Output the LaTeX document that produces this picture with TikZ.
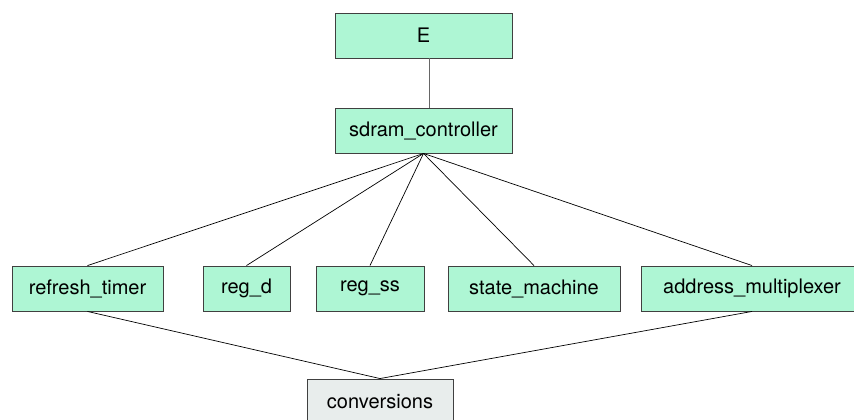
\documentclass[tikz,border=0pt]{standalone}
\usepackage{fontspec}
\setmainfont{TeX Gyre Heros}
\definecolor{modfill}{HTML}{AEF6D4}
\definecolor{pkgfill}{HTML}{E8EDEC}
\definecolor{boxline}{HTML}{404040}
\begin{document}
\begin{tikzpicture}[x=1pt,y=-1pt,
  unit/.style={draw=boxline,line width=0.9pt,fill=modfill,minimum height=45pt,
    inner sep=0pt,font=\fontsize{20}{22}\selectfont},
  pkg/.style={unit,fill=pkgfill},
  link/.style={draw=black,line width=0.7pt}]
\useasboundingbox (0,0) rectangle (854,420);
\fill[white] (0,0) rectangle (854,420);
% top entity and controller
\node[unit,minimum width=177pt] (e) at (423.5,35.5) {E};
\node[unit,minimum width=177pt] (ctrl) at (423.5,130.5) {sdram\_controller};
% sub-units
\node[unit,minimum width=151pt] (rt) at (87.5,288.5) {refresh\_timer};
\node[unit,minimum width=87pt] (rd) at (246.5,288.5) {reg\_d};
\node[unit,minimum width=108pt] (rs) at (370,288.5) {reg\_ss};
\node[unit,minimum width=172pt] (sm) at (534,288.5) {state\_machine};
\node[unit,minimum width=222pt] (am) at (752,288.5) {address\_multiplexer};
% shared package
\node[pkg,minimum width=146pt] (cv) at (380,401.5) {conversions};
% connectors
\draw[draw=boxline!80,line width=0.9pt] ([xshift=5.5pt]e.south) -- ([xshift=5.5pt]ctrl.north);
\foreach \c in {rt,rd,rs,sm,am}
  \draw[link] (ctrl.south) -- (\c.north);
\draw[link] (rt.south) -- (cv.north);
\draw[link] (am.south) -- (cv.north);
\end{tikzpicture}
\end{document}
